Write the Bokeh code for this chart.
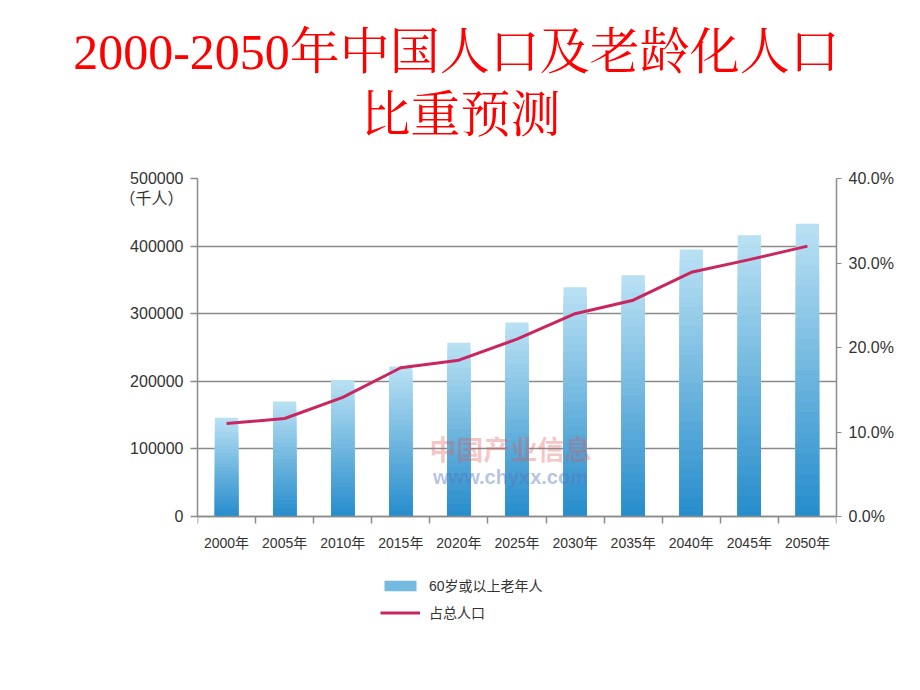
import numpy as np
from bokeh.plotting import figure
from bokeh.models import (Range1d, LinearAxis, FixedTicker, NumeralTickFormatter,
                          Label, Legend, LegendItem, Title)
from bokeh.embed import file_html
from bokeh.resources import INLINE

# ---------------- data ----------------
years = ["2000年", "2005年", "2010年", "2015年", "2020年", "2025年",
         "2030年", "2035年", "2040年", "2045年", "2050年"]
elderly = [146000, 170000, 202000, 222000, 257000, 287000,
           339000, 357000, 395000, 416000, 433000]          # 60岁或以上老年人 (千人)
share = [0.110, 0.116, 0.141, 0.176, 0.185, 0.210,
         0.240, 0.256, 0.289, 0.304, 0.320]                 # 占总人口
left_ticks = [0, 100000, 200000, 300000, 400000, 500000]
right_ticks = [0.0, 0.1, 0.2, 0.3, 0.4]

title_line1 = "2000-2050年中国人口及老龄化人口"
title_line2 = "比重预测"
unit_label = "（千人）"
series_bar = "60岁或以上老年人"
series_line = "占总人口"

# ---------------- layout / styling ----------------
W, H = 904, 674
FRAME_TOP, FRAME_LEFT, FRAME_RIGHT = 178, 197, 836
ZERO_Y = 516                     # pixel row of the value 0 (x axis)
FRAME_BOTTOM = H - 40            # frame extends below the x axis to hold the legend
TXT = "#333333"
AX = "#8a8a8a"
FONT = "'Liberation Sans', 'Noto Sans CJK SC'"
TFONT = "'Liberation Serif', 'Noto Serif CJK SC', 'Noto Sans CJK SC'"
TSIZE = 50
BAR_DARK = np.array([0x28, 0x8e, 0xcc])
BAR_LIGHT = np.array([0xb8, 0xe0, 0xf3])
LINE_COL = "#c92660"


def hexcol(c):
    return "#%02x%02x%02x" % tuple(int(round(v)) for v in c)


def approx_width(s, size):
    w = 0.0
    for ch in s:
        if ord(ch) > 0x2e80:
            w += 1.0
        elif ch == "-":
            w += 0.333
        else:
            w += 0.5
    return w * size


# ranges: top value at FRAME_TOP, 0 at ZERO_Y, extended below 0 down to FRAME_BOTTOM
ymax, pmax = left_ticks[-1], right_ticks[-1]
ext = (FRAME_BOTTOM - ZERO_Y) / (ZERO_Y - FRAME_TOP)

xs = np.arange(len(years))
p = figure(width=W, height=H, output_backend="svg", toolbar_location=None,
           x_range=Range1d(-0.5, len(years) - 0.5), y_range=Range1d(-ymax * ext, ymax),
           min_border_left=FRAME_LEFT, min_border_right=W - FRAME_RIGHT,
           min_border_top=FRAME_TOP, min_border_bottom=H - FRAME_BOTTOM)
p.outline_line_color = None
p.extra_y_ranges = {"pct": Range1d(-pmax * ext, pmax)}

# ---------------- titles (gap nearest the frame, then line 2, then line 1) ----------------
spacer = Title(text="\u00a0", text_font_size="1px", standoff=30, text_color="white")
t2 = Title(text=title_line2, align="left",
           offset=460 - approx_width(title_line2, TSIZE) / 2 - FRAME_LEFT,
           text_font=TFONT, text_font_size="%dpx" % TSIZE, text_color="#ff0000",
           text_font_style="normal", standoff=5)
t1 = Title(text=title_line1, align="left",
           offset=456 - approx_width(title_line1, TSIZE) / 2 - FRAME_LEFT,
           text_font=TFONT, text_font_size="%dpx" % TSIZE, text_color="#ff0000",
           text_font_style="normal", standoff=5)
p.add_layout(spacer, "above")
p.add_layout(t2, "above")
p.add_layout(t1, "above")

# ---------------- axes ----------------
p.xaxis.fixed_location = 0
p.xaxis.ticker = FixedTicker(ticks=list(xs), minor_ticks=list(np.arange(len(years) + 1) - 0.5))
p.xaxis.major_label_overrides = {int(i): y for i, y in zip(xs, years)}
p.xaxis.major_tick_line_color = None
p.xaxis.minor_tick_line_color = AX
p.xaxis.minor_tick_in = 0
p.xaxis.minor_tick_out = 7
p.xaxis.minor_tick_line_width = 1.5
p.xaxis.axis_line_color = AX
p.xaxis.axis_line_width = 1.5
p.xaxis.major_label_text_font = FONT
p.xaxis.major_label_text_font_size = "14px"
p.xaxis.major_label_text_color = TXT
p.xaxis.major_label_standoff = 11
p.xgrid.grid_line_color = None

p.yaxis.bounds = (0, ymax)
p.yaxis.ticker = FixedTicker(ticks=left_ticks)
p.yaxis.formatter = NumeralTickFormatter(format="0")
p.yaxis.major_label_overrides = {left_ticks[-1]: "\n%d\n%s" % (left_ticks[-1], unit_label)}
p.yaxis.axis_line_color = AX
p.yaxis.axis_line_width = 1.5
p.yaxis.major_tick_line_color = AX
p.yaxis.major_tick_line_width = 1.5
p.yaxis.major_tick_in = 0
p.yaxis.major_tick_out = 7
p.yaxis.minor_tick_line_color = None
p.yaxis.major_label_text_font = FONT
p.yaxis.major_label_text_font_size = "16px"
p.yaxis.major_label_text_color = TXT
p.yaxis.major_label_text_line_height = 1.2
p.yaxis.major_label_standoff = 7
p.ygrid.ticker = FixedTicker(ticks=left_ticks)
p.ygrid.grid_line_color = "#8a8a8a"
p.ygrid.grid_line_width = 1.5

ra = LinearAxis(y_range_name="pct", ticker=FixedTicker(ticks=right_ticks),
                formatter=NumeralTickFormatter(format="0.0%"), bounds=(0, pmax))
ra.axis_line_color = AX
ra.axis_line_width = 1.5
ra.major_tick_line_color = AX
ra.major_tick_in = 0
ra.major_tick_out = 5
ra.minor_tick_line_color = None
ra.major_label_text_font = FONT
ra.major_label_text_font_size = "16px"
ra.major_label_text_color = TXT
ra.major_label_standoff = 7
p.add_layout(ra, "right")

# ---------------- bars (vertical gradient via overlapping layers) ----------------
N = 28
vals = np.array(elderly, dtype=float)
bar_layers = {}
for k in range(N - 1, -1, -1):
    t = k / (N - 1)
    col = hexcol(BAR_DARK + (BAR_LIGHT - BAR_DARK) * t)
    bar_layers[k] = p.vbar(x=xs, bottom=0, top=vals * (k + 1) / N, width=0.4,
                           fill_color=col, line_color=None)

# ---------------- line ----------------
lr = p.line(xs, share, y_range_name="pct", line_color=LINE_COL, line_width=3)

# ---------------- watermark ----------------
p.add_layout(Label(x=510 - FRAME_LEFT, y=FRAME_BOTTOM - 448, x_units="screen", y_units="screen",
                   text="中国产业信息", text_align="center", text_baseline="middle",
                   text_font="'Noto Sans CJK SC'", text_font_size="27px",
                   text_font_style="bold", text_color="#e05a5a", text_alpha=0.35))
p.add_layout(Label(x=510 - FRAME_LEFT, y=FRAME_BOTTOM - 476, x_units="screen", y_units="screen",
                   text="www.chyxx.com", text_align="center", text_baseline="middle",
                   text_font="'Liberation Sans'", text_font_size="20px",
                   text_font_style="bold", text_color="#5a78c0", text_alpha=0.45))

# ---------------- legend (inside the extended frame, below the x axis) ----------------
legend = Legend(items=[LegendItem(label=series_bar, renderers=[bar_layers[N // 2]]),
                       LegendItem(label=series_line, renderers=[lr])],
                location=(380 - FRAME_LEFT, FRAME_BOTTOM - 622))
legend.background_fill_alpha = 0
legend.border_line_color = None
legend.glyph_width = 40
legend.glyph_height = 13
legend.label_height = 20
legend.spacing = 7
legend.padding = 0
legend.margin = 0
legend.label_standoff = 9
legend.label_text_font = FONT
legend.label_text_font_size = "14px"
legend.label_text_color = TXT
p.add_layout(legend)

open("out.html", "w").write(file_html(p, INLINE))
